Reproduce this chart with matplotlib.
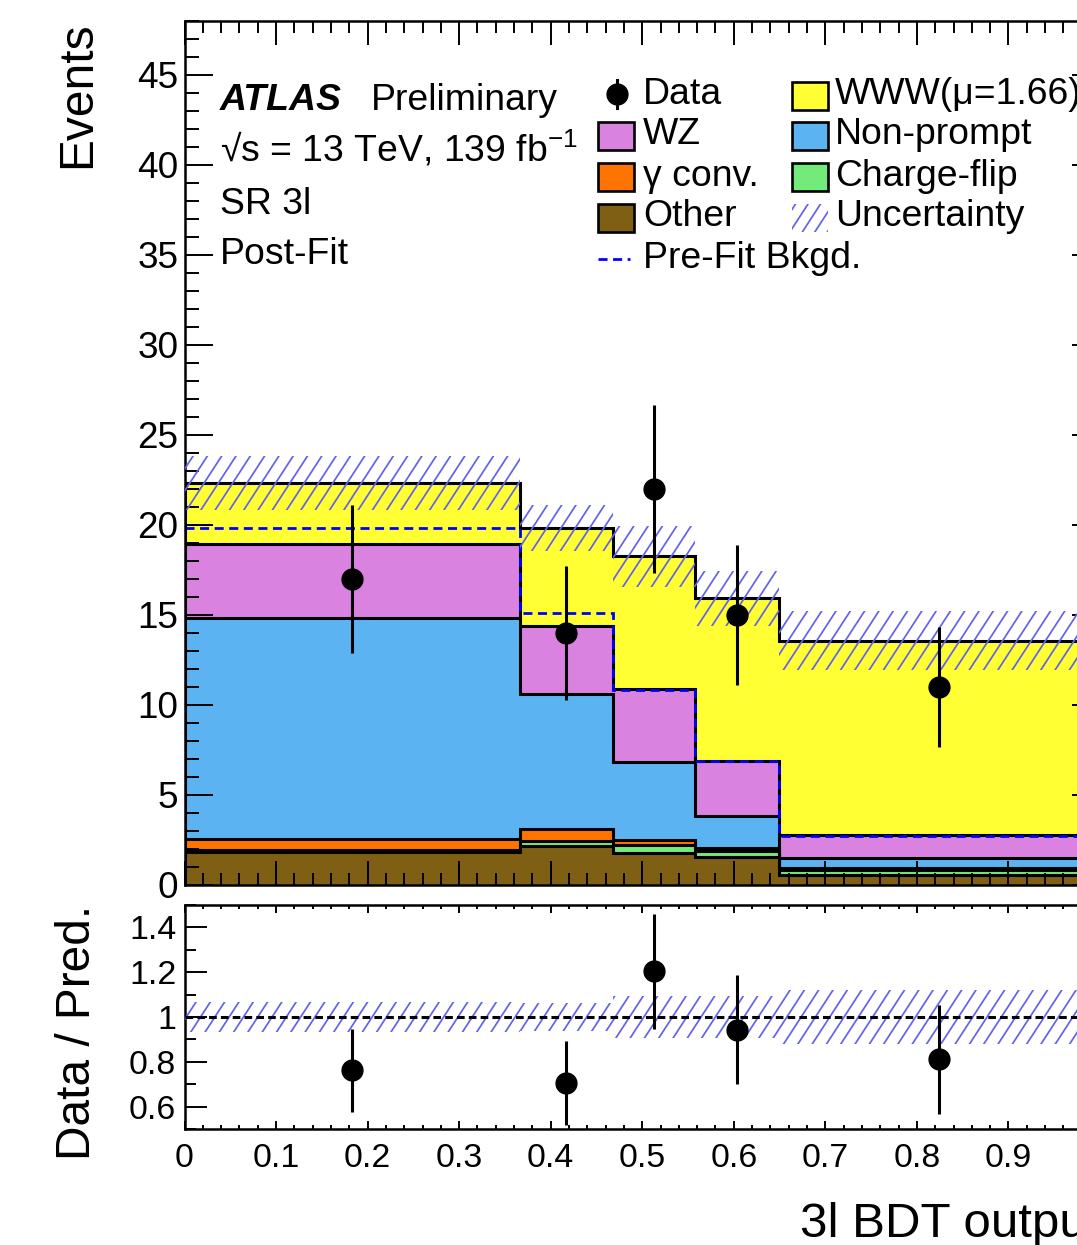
import numpy as np
import matplotlib
matplotlib.use("Agg")
import matplotlib.pyplot as plt
from matplotlib.collections import LineCollection
from matplotlib.path import Path
from matplotlib.patches import Rectangle
from matplotlib.lines import Line2D
from matplotlib.transforms import IdentityTransform
from matplotlib.ticker import MultipleLocator, FuncFormatter

plt.rcParams["font.family"] = ["Liberation Sans", "DejaVu Sans"]
plt.rcParams["mathtext.fontset"] = "custom"
plt.rcParams["mathtext.rm"] = "Liberation Sans"
plt.rcParams["mathtext.it"] = "Liberation Sans:italic"
plt.rcParams["mathtext.bf"] = "Liberation Sans:bold"
plt.rcParams["lines.scale_dashes"] = False

# ---------------- data ----------------
bin_edges = [0.0, 0.366, 0.468, 0.558, 0.649, 1.0]
data_counts = [17, 14, 22, 15, 11]

# post-fit yields per bin (stacked bottom -> top)
other = [1.83, 2.14, 1.77, 1.58, 0.56]
charge_flip = [0.10, 0.31, 0.43, 0.32, 0.30]
gamma_conv = [0.63, 0.67, 0.30, 0.18, 0.07]
non_prompt = [12.27, 7.47, 4.32, 1.78, 0.56]
wz = [4.12, 3.81, 4.05, 3.05, 1.30]
www = [3.38, 5.43, 7.39, 9.01, 10.77]

prefit_bkg = [19.84, 15.10, 10.85, 6.90, 2.74]
total_unc = [1.50, 1.27, 1.70, 1.52, 1.64]

labels = ["Other", "Charge-flip", "\u03b3 conv.", "Non-prompt", "WZ", "WWW(\u03bc=1.66)"]
colors = ["#7f5f14", "#72eb7a", "#ff7400", "#5cb3f2", "#da82e0", "#ffff33"]
yields = [other, charge_flip, gamma_conv, non_prompt, wz, www]

HATCH_COLOR = "#6262ee"

# ---------------- figure geometry (pixels) ----------------
W, H, DPI = 1077, 1245, 100
fig = plt.figure(figsize=(W / DPI, H / DPI), dpi=DPI)
fig.patch.set_facecolor("white")

AX_L, AX_R = 184.5, 1100.0
MAIN_T, MAIN_B = 21.0, 885.0
RAT_T, RAT_B = 905.0, 1129.0


def fx(px):
    return px / W


def fy(py):
    return 1.0 - py / H


ax = fig.add_axes([fx(AX_L), fy(MAIN_B), (AX_R - AX_L) / W, (MAIN_B - MAIN_T) / H])
rax = fig.add_axes([fx(AX_L), fy(RAT_B), (AX_R - AX_L) / W, (RAT_B - RAT_T) / H])

edges = np.asarray(bin_edges)
centers = 0.5 * (edges[:-1] + edges[1:])
data = np.asarray(data_counts, dtype=float)
cum = np.cumsum(np.asarray(yields, dtype=float), axis=0)
total = cum[-1]
unc = np.asarray(total_unc)


def band_path(e, lo, hi):
    verts = []
    for i in range(len(lo)):
        verts += [(e[i], hi[i]), (e[i + 1], hi[i])]
    for i in reversed(range(len(lo))):
        verts += [(e[i + 1], lo[i]), (e[i], lo[i])]
    verts.append(verts[0])
    codes = [Path.MOVETO] + [Path.LINETO] * (len(verts) - 2) + [Path.CLOSEPOLY]
    return Path(verts, codes)


def add_hatch(axes, clip_path, clip_transform, spacing=14.3, angle=57.0,
              lw=1.25, zorder=3):
    """Parallel hatch lines in pixel space, clipped to a path."""
    cot = 1.0 / np.tan(np.radians(angle))
    span = H * cot
    starts = np.arange(-span - spacing, W + spacing, spacing) + 3.0
    segs = [[(x0, 0.0), (x0 + span, H)] for x0 in starts]
    lc = LineCollection(segs, colors=HATCH_COLOR, linewidths=lw,
                        transform=IdentityTransform(), zorder=zorder)
    axes.add_collection(lc, autolim=False)
    lc.set_clip_path(clip_path, clip_transform)
    return lc


# ---------------- main panel ----------------
for top, col in reversed(list(zip(cum, colors))):
    ax.stairs(top, edges, baseline=0, fill=True, facecolor=col,
              edgecolor="black", linewidth=2.2, zorder=1)

add_hatch(ax, band_path(edges, total - unc, total + unc), ax.transData)

ax.stairs(prefit_bkg, edges, baseline=None, fill=False, edgecolor="#0000ff",
          linewidth=2.0, linestyle=(0, (6.5, 4.0)), zorder=2)

ax.errorbar(centers, data, yerr=np.sqrt(data), fmt="o", color="black",
            markersize=15, elinewidth=2.2, capsize=0, zorder=5)

ax.set_xlim(0, 1)
ax.set_ylim(0, 48)

# ---------------- ratio panel ----------------
rel = unc / total
add_hatch(rax, band_path(edges, 1 - rel, 1 + rel), rax.transData)
rax.axhline(1.0, color="black", linewidth=2.2, linestyle=(0, (5.5, 3.0)), zorder=4)
rax.errorbar(centers, data / total, yerr=np.sqrt(data) / total, fmt="o",
             color="black", markersize=15, elinewidth=2.2, capsize=0, zorder=5)
rax.set_xlim(0, 1)
rax.set_ylim(0.5, 1.5)

# ---------------- axes styling ----------------
fmt = FuncFormatter(lambda v, p: "%g" % round(v, 3))
for a in (ax, rax):
    for s in a.spines.values():
        s.set_linewidth(1.8)
    a.tick_params(which="both", direction="in", top=True, right=True, width=1.4)
    a.xaxis.set_major_locator(MultipleLocator(0.1))
    a.xaxis.set_minor_locator(MultipleLocator(0.02))
    a.xaxis.set_major_formatter(fmt)
    a.yaxis.set_major_formatter(fmt)

ax.yaxis.set_major_locator(MultipleLocator(5))
ax.yaxis.set_minor_locator(MultipleLocator(1))
ax.tick_params(axis="x", which="major", length=17.5, labelbottom=False)
ax.tick_params(axis="x", which="minor", length=8.6)
ax.tick_params(axis="y", which="major", length=20.4, labelsize=26.6, pad=4.3)
ax.tick_params(axis="y", which="minor", length=10.2)

rax.yaxis.set_major_locator(MultipleLocator(0.2))
rax.yaxis.set_minor_locator(MultipleLocator(0.1))
rax.tick_params(axis="x", which="major", length=6.0, labelsize=24.4, pad=10)
rax.tick_params(axis="x", which="minor", length=3.0)
rax.tick_params(axis="y", which="major", length=15.6, labelsize=24.4, pad=6)
rax.tick_params(axis="y", which="minor", length=8.0)

# axis titles
TITLE_FS = 34.5
fig.text(fx(90), fy(21), "Events", rotation=90, rotation_mode="anchor",
         ha="right", va="baseline", fontsize=TITLE_FS)
fig.text(fx(90), fy(905), "Data / Pred.", rotation=90, rotation_mode="anchor",
         ha="right", va="baseline", fontsize=TITLE_FS)
fig.text(fx(1100), fy(1237), "3l BDT output", ha="right", va="baseline",
         fontsize=35.5)

# ---------------- labels ----------------
TXT_FS = 26.9
fig.text(fx(220), fy(110.5), "ATLAS", fontsize=TXT_FS, weight="bold",
         style="italic", va="baseline")
fig.text(fx(371), fy(110.5), "Preliminary", fontsize=TXT_FS, va="baseline")
fig.text(fx(220), fy(161.5), "\u221as = 13 TeV, 139 fb$^{\\mathregular{-1}}$",
         fontsize=TXT_FS, va="baseline")
fig.text(fx(220), fy(213.5), "SR 3l", fontsize=TXT_FS, va="baseline")
fig.text(fx(220), fy(263.5), "Post-Fit", fontsize=TXT_FS, va="baseline")

# ---------------- legend ----------------
PIX = IdentityTransform()
COL_BOX = [598.0, 792.0]
COL_TXT = [643.0, 835.0]
ROW_BASE = [104.5, 144.5, 185.5, 226.5, 267.5]
BOX_W, BOX_H = 36.0, 28.0


def box_center(row):
    return ROW_BASE[row] - 8.5


def legend_box(col, row, color):
    cy = box_center(row)
    r = Rectangle((COL_BOX[col], H - cy - BOX_H / 2), BOX_W, BOX_H,
                  facecolor=color, edgecolor="black", linewidth=1.9,
                  transform=PIX, zorder=6)
    fig.add_artist(r)


def legend_text(col, row, text):
    fig.text(fx(COL_TXT[col]), fy(ROW_BASE[row]), text, fontsize=TXT_FS,
             va="baseline")


# Data
cx = COL_BOX[0] + BOX_W / 2 + 1
cy = box_center(0) - 2
fig.add_artist(Line2D([cx, cx], [H - cy - 14, H - cy + 14], color="black",
                      linewidth=2.2, transform=PIX))
fig.add_artist(Line2D([cx], [H - cy], marker="o", markersize=15, color="black",
                      linestyle="none", transform=PIX))
legend_text(0, 0, "Data")

# filled samples: (column, row) slots in reading order
slots = {
    "WWW(\u03bc=1.66)": (1, 0),
    "WZ": (0, 1),
    "Non-prompt": (1, 1),
    "\u03b3 conv.": (0, 2),
    "Charge-flip": (1, 2),
    "Other": (0, 3),
}
for lab, col in zip(labels, colors):
    c, r = slots[lab]
    legend_box(c, r, col)
    legend_text(c, r, lab)

# Uncertainty
cy = box_center(3)
x0, y0 = COL_BOX[1], H - cy - BOX_H / 2
unc_clip = Path([(x0, y0), (x0 + BOX_W, y0), (x0 + BOX_W, y0 + BOX_H),
                 (x0, y0 + BOX_H), (x0, y0)],
                [Path.MOVETO, Path.LINETO, Path.LINETO, Path.LINETO, Path.CLOSEPOLY])
add_hatch(ax, unc_clip, PIX, spacing=12.5, zorder=6)
legend_text(1, 3, "Uncertainty")

# Pre-fit background
cy = box_center(4)
fig.add_artist(Line2D([COL_BOX[0], COL_BOX[0] + 32], [H - cy, H - cy],
                      color="#0000ff", linewidth=2.0,
                      linestyle=(0, (6.5, 4.0)), transform=PIX))
legend_text(0, 4, "Pre-Fit Bkgd.")

fig.savefig("out.png", dpi=DPI)
